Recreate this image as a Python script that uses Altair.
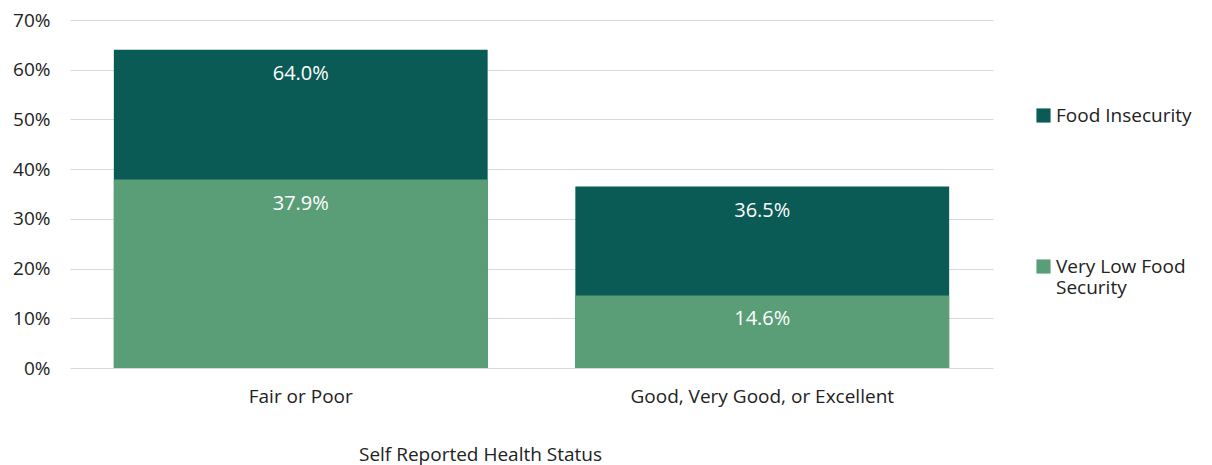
import altair as alt
import pandas as pd

categories = ["Fair or Poor", "Good, Very Good, or Excellent"]
series_names = ["Food Insecurity", "Very Low Food Security"]
food_insecurity = [0.640, 0.365]
very_low_food_security = [0.379, 0.146]
colors = ["#0a5a55", "#5a9e77"]

rows = []
for c, v in zip(categories, food_insecurity):
    rows.append({"status": c, "series": series_names[0], "value": v})
for c, v in zip(categories, very_low_food_security):
    rows.append({"status": c, "series": series_names[1], "value": v})
df = pd.DataFrame(rows)

FONT = "Open Sans"

base = alt.Chart(df)

x_enc = alt.X(
    "status:N",
    sort=categories,
    scale=alt.Scale(paddingInner=0.19, paddingOuter=0.095),
    axis=alt.Axis(
        title="Self Reported Health Status",
        labelAngle=0,
        labelFontSize=19,
        labelColor="#222222",
        labelPadding=19,
        labelLimit=500,
        ticks=False,
        domain=False,
        titleFontSize=19,
        titleFontWeight="normal",
        titleColor="#222222",
        titleX=410,
        titleY=86,
        titleBaseline="middle",
        titleAlign="center",
    ),
)

y_enc = alt.Y(
    "value:Q",
    stack=None,
    scale=alt.Scale(domain=[0, 0.7]),
    axis=alt.Axis(
        title=None,
        format=".0%",
        values=[0, 0.1, 0.2, 0.3, 0.4, 0.5, 0.6, 0.7],
        labelFontSize=19,
        labelColor="#222222",
        labelPadding=20,
        ticks=False,
        domain=False,
        gridColor="#d9d9d9",
        gridWidth=1,
    ),
)

bars = base.mark_bar().encode(
    x=x_enc,
    y=y_enc,
    color=alt.Color(
        "series:N",
        scale=alt.Scale(domain=series_names, range=colors),
        legend=alt.Legend(
            title=None,
            orient="none",
            legendX=964,
            legendY=86,
            symbolType="square",
            symbolSize=200,
            symbolStrokeWidth=0,
            labelFontSize=19,
            labelColor="#222222",
            labelOffset=3,
            labelLimit=300,
            rowPadding=131,
            labelExpr="datum.label == 'Very Low Food Security' ? ['Very Low Food', 'Security'] : datum.label",
        ),
    ),
    order=alt.Order("series:N"),
)

labels = base.mark_text(
    color="white", fontSize=20, font=FONT, baseline="middle", dy=24
).encode(
    x=alt.X("status:N", sort=categories),
    y=alt.Y("value:Q", stack=None),
    text=alt.Text("value:Q", format=".1%"),
)

chart = (
    alt.layer(bars, labels)
    .properties(
        width=923,
        height=348,
        autosize=alt.AutoSizeParams(type="none"),
        padding={"left": 62, "top": 12, "right": 211, "bottom": 97},
    )
    .configure(font=FONT)
    .configure_view(stroke=None)
)

chart.save("out.html", embed_options={"renderer": "svg", "actions": False})
